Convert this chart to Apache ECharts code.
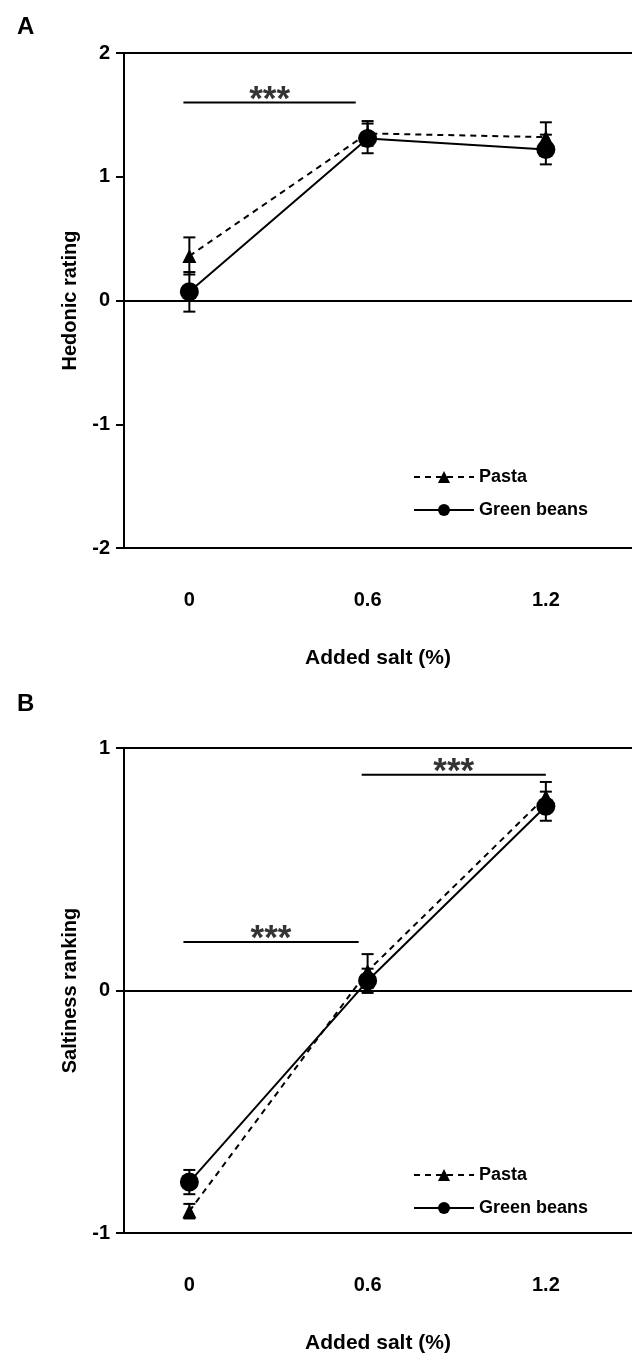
<!DOCTYPE html>
<html>
<head>
<meta charset="utf-8">
<script src="https://cdn.jsdelivr.net/npm/echarts@6/dist/echarts.min.js"></script>
<style>html,body{margin:0;padding:0;background:#fff}#c{width:632px;height:1355px}</style>
</head>
<body>
<div id="c"></div>
<script>
const saltLevels = [0, 0.6, 1.2];
const saltLabels = ['0', '0.6', '1.2'];
const hedonicPasta = [0.36, 1.35, 1.32];
const hedonicPastaErr = [0.15, 0.10, 0.12];
const hedonicBeans = [0.07, 1.31, 1.22];
const hedonicBeansErr = [0.16, 0.12, 0.12];
const saltyPasta = [-0.91, 0.08, 0.80];
const saltyPastaErr = [0.03, 0.07, 0.06];
const saltyBeans = [-0.79, 0.04, 0.76];
const saltyBeansErr = [0.05, 0.05, 0.06];
const hedonicTicks = [-2, -1, 0, 1, 2];
const saltyTicks = [-1, 0, 1];
// significance brackets: [xStart, xEnd, y]
const sigA = [[-0.02, 0.56, 1.6]];
const sigB = [[-0.02, 0.57, 0.2], [0.58, 1.2, 0.89]];

const FONT = 'Liberation Sans, Arial, sans-serif';
const chart = echarts.init(document.getElementById('c'));

function pts(ys) { return saltLevels.map((x, i) => [x, ys[i]]); }
function errPts(ys, es) { return saltLevels.map((x, i) => [x, ys[i], es[i]]); }

function errSeries(ys, es, idx) {
  return {
    type: 'custom', xAxisIndex: idx, yAxisIndex: idx, z: 1, silent: true,
    data: errPts(ys, es),
    renderItem: function (params, api) {
      const x = api.value(0), y = api.value(1), e = api.value(2);
      const t = api.coord([x, y + e]), b = api.coord([x, y - e]);
      const st = { stroke: '#000', lineWidth: 2 };
      return { type: 'group', children: [
        { type: 'line', shape: { x1: t[0], y1: t[1], x2: b[0], y2: b[1] }, style: st },
        { type: 'line', shape: { x1: t[0] - 6, y1: t[1], x2: t[0] + 6, y2: t[1] }, style: st },
        { type: 'line', shape: { x1: b[0] - 6, y1: b[1], x2: b[0] + 6, y2: b[1] }, style: st }
      ] };
    }
  };
}

function sigSeries(list, idx) {
  const out = [];
  list.forEach(s => {
    out.push({
      type: 'line', xAxisIndex: idx, yAxisIndex: idx, silent: true, symbol: 'none',
      data: [[s[0], s[2]], [s[1], s[2]]],
      lineStyle: { color: '#000', width: 2 }
    });
    out.push({
      type: 'scatter', xAxisIndex: idx, yAxisIndex: idx, silent: true, symbolSize: 0,
      data: [[(s[0] + s[1]) / 2, s[2]]],
      label: { show: true, position: 'top', distance: -15, formatter: '***', color: '#000', fontSize: 35, fontWeight: 'bold', fontFamily: FONT }
    });
  });
  return out;
}

function lineSeries(name, ys, idx, dashed, symbol, size) {
  return {
    name: name, type: 'line', xAxisIndex: idx, yAxisIndex: idx, z: 3,
    data: pts(ys), symbol: symbol, symbolSize: size,
    itemStyle: { color: '#000' },
    lineStyle: { color: '#000', width: 2, type: dashed ? [6, 5] : 'solid' }
  };
}

function xAxisDef(idx) {
  return {
    type: 'value', gridIndex: idx, min: -0.22, max: 1.49,
    axisLine: { show: true, onZero: false, lineStyle: { color: '#000', width: 2 } },
    axisTick: { show: false },
    splitLine: { show: false },
    axisLabel: { customValues: saltLevels, formatter: v => saltLabels[saltLevels.indexOf(Math.round(v * 10) / 10)] || '', margin: 42, color: '#000', fontSize: 20, fontWeight: 'bold', fontFamily: FONT },
    name: 'Added salt (%)', nameLocation: 'middle', nameGap: 100,
    nameTextStyle: { color: '#000', fontSize: 21, fontWeight: 'bold', fontFamily: FONT }
  };
}

function xTopDef(idx) {
  return {
    type: 'value', gridIndex: idx, position: 'top', min: -0.22, max: 1.49,
    axisLine: { show: true, onZero: false, lineStyle: { color: '#000', width: 2 } },
    axisTick: { show: false }, axisLabel: { show: false }, splitLine: { show: false }
  };
}

function yAxisDef(idx, ticks, name) {
  return {
    type: 'value', gridIndex: idx, min: ticks[0], max: ticks[ticks.length - 1], interval: 1,
    axisLine: { show: true, onZero: false, lineStyle: { color: '#000', width: 2 } },
    axisTick: { show: true, inside: false, length: 8, lineStyle: { color: '#000', width: 2 } },
    splitLine: { show: false },
    axisLabel: { margin: 14, color: '#000', fontSize: 20, fontWeight: 'bold', fontFamily: FONT },
    name: name, nameLocation: 'middle', nameGap: 44,
    nameTextStyle: { color: '#000', fontSize: 20, fontWeight: 'bold', fontFamily: FONT }
  };
}

function zeroLine(idx) {
  return {
    type: 'line', xAxisIndex: idx, yAxisIndex: idx, data: [], silent: true,
    markLine: { symbol: 'none', silent: true, label: { show: false },
      lineStyle: { color: '#000', width: 2, type: 'solid' }, data: [{ yAxis: 0 }] }
  };
}

const legendCommon = {
  orient: 'vertical', left: 408, itemWidth: 60, itemHeight: 15, itemGap: 15,
  textStyle: { color: '#000', fontSize: 18, fontWeight: 'bold', fontFamily: FONT },
  data: ['Pasta', 'Green beans'], selectedMode: false
};

chart.setOption({
  animation: false,
  backgroundColor: '#fff',
  grid: [
    { left: 124, right: -5, top: 53, bottom: 807 },
    { left: 124, right: -5, top: 748, bottom: 110 }
  ],
  xAxis: [xAxisDef(0), xAxisDef(1), xTopDef(0), xTopDef(1)],
  yAxis: [yAxisDef(0, hedonicTicks, 'Hedonic rating'), yAxisDef(1, saltyTicks, 'Saltiness ranking')],
  legend: [
    Object.assign({ top: 463 }, legendCommon),
    Object.assign({ top: 1161 }, legendCommon)
  ],
  graphic: [
    { type: 'text', left: 17, top: 15, style: { text: 'A', fontSize: 24, fontWeight: 'bold', fontFamily: FONT, fill: '#000' } },
    { type: 'text', left: 17, top: 692, style: { text: 'B', fontSize: 24, fontWeight: 'bold', fontFamily: FONT, fill: '#000' } }
  ],
  series: [
    zeroLine(0), zeroLine(1),
    errSeries(hedonicPasta, hedonicPastaErr, 0),
    errSeries(hedonicBeans, hedonicBeansErr, 0),
    errSeries(saltyPasta, saltyPastaErr, 1),
    errSeries(saltyBeans, saltyBeansErr, 1),
    lineSeries('Pasta', hedonicPasta, 0, true, 'triangle', 14),
    lineSeries('Green beans', hedonicBeans, 0, false, 'circle', 19),
    lineSeries('Pasta', saltyPasta, 1, true, 'triangle', 14),
    lineSeries('Green beans', saltyBeans, 1, false, 'circle', 19)
  ].concat(sigSeries(sigA, 0), sigSeries(sigB, 1))
});
</script>
</body>
</html>
